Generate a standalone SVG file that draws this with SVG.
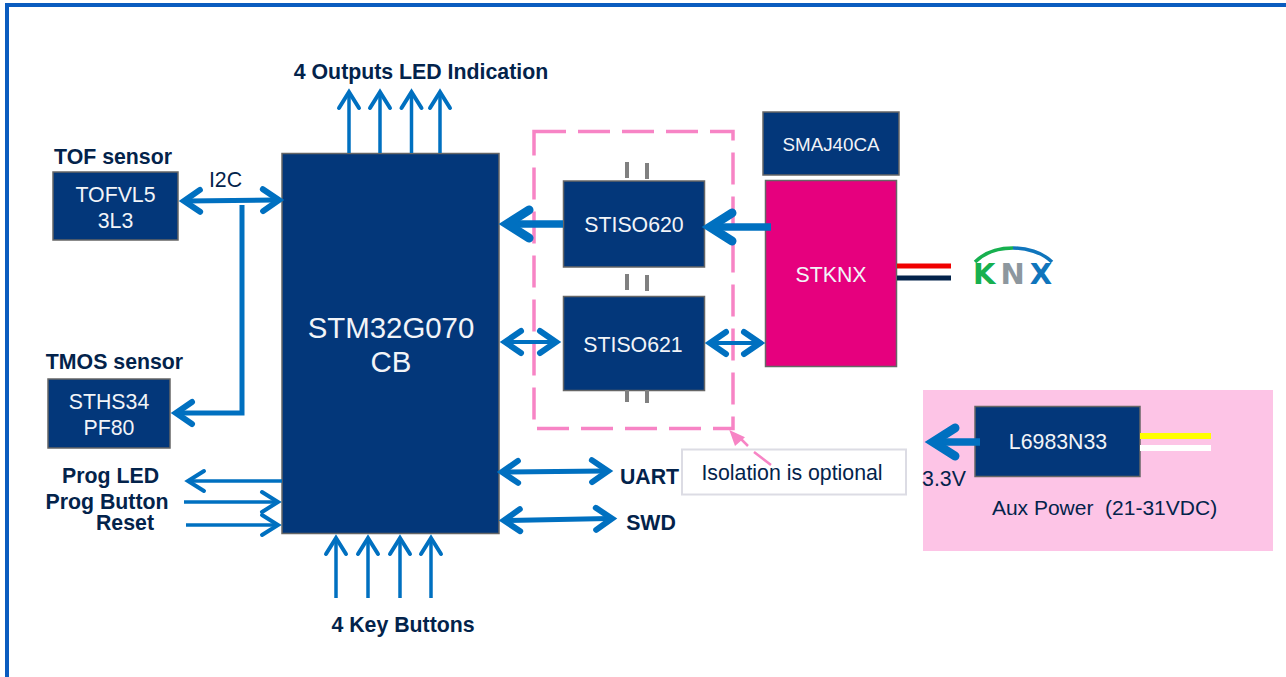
<svg xmlns="http://www.w3.org/2000/svg" width="1286" height="677" viewBox="0 0 1286 677">
<style>
text{font-family:"Liberation Sans",Arial,sans-serif;text-anchor:middle}
.box{fill:#03377a;stroke:#666;stroke-width:1.5}
.w{fill:#f2f4f8;font-size:21.3px}
.b{fill:#03234b;font-size:21.3px;font-weight:700}
.n{fill:#03234b;font-size:21.3px}
.a{fill:none;stroke:#0070c0;stroke-width:3.5}
.t{fill:none;stroke:#0070c0;stroke-width:5}
.s{fill:none;stroke:#0070c0;stroke-width:4}
.k{fill:none;stroke:#0070c0;stroke-width:7.5}
.tick{stroke:#808080;stroke-width:4;fill:none}
</style>
<defs>
<marker id="h" markerUnits="userSpaceOnUse" markerWidth="40" markerHeight="40" viewBox="-30 -20 40 40" refX="-6" refY="0" orient="auto-start-reverse"><path d="M-20 -10 L-4 0 L-20 10" fill="none" stroke="#0070c0" stroke-width="4" stroke-linecap="round" stroke-miterlimit="8"/></marker>
<marker id="m" markerUnits="userSpaceOnUse" markerWidth="44" markerHeight="44" viewBox="-32 -22 44 44" refX="-8" refY="0" orient="auto-start-reverse"><path d="M-21 -11 L-5 0 L-21 11" fill="none" stroke="#0070c0" stroke-width="6" stroke-linecap="round" stroke-miterlimit="8"/></marker>
<marker id="l" markerUnits="userSpaceOnUse" markerWidth="56" markerHeight="56" viewBox="-40 -28 56 56" refX="-12" refY="0" orient="auto-start-reverse"><path d="M-31 -14 L-9 0 L-31 14" fill="none" stroke="#0070c0" stroke-width="9" stroke-linecap="round" stroke-miterlimit="8"/></marker>
</defs>
<rect width="1286" height="677" fill="#fff"/>
<path d="M7 677V5H1286" fill="none" stroke="#0a5cbf" stroke-width="4"/>
<g id="aux-panel"><rect x="923" y="390" width="350" height="161" fill="#fdc4e6"/><text class="n" x="1104.500" y="515" style="white-space:pre;font-size:21px">Aux Power  (21-31VDC)</text></g>
<g id="isolation-area"><rect x="534" y="131.500" width="199" height="297" fill="none" stroke="#f784c5" stroke-width="3.500" stroke-dasharray="32 12"/></g>
<g id="mcu"><rect class="box" x="282" y="153.500" width="217" height="380"/><text class="w" x="391" y="338" style="font-size:29.400px">STM32G070</text><text class="w" x="391" y="372" style="font-size:29.400px">CB</text></g>
<g id="tof"><text class="b" x="113" y="164">TOF sensor</text><rect class="box" x="53" y="172" width="125" height="68"/><text class="w" x="115.500" y="202">TOFVL5</text><text class="w" x="115.500" y="228">3L3</text></g>
<g id="tmos"><text class="b" x="114.500" y="369">TMOS sensor</text><rect class="box" x="48" y="379" width="122" height="69"/><text class="w" x="109" y="409">STHS34</text><text class="w" x="109" y="435">PF80</text></g>
<g id="stiso620"><rect class="box" x="563.500" y="181" width="141" height="86"/><text class="w" x="634" y="232">STISO620</text></g>
<g id="stiso621"><rect class="box" x="563.500" y="296.500" width="141" height="94"/><text class="w" x="633" y="352">STISO621</text></g>
<g id="smaj"><rect class="box" x="763" y="112" width="136" height="63"/><text class="w" x="831" y="151" style="font-size:18.800px">SMAJ40CA</text></g>
<g id="stknx"><rect x="765.500" y="180.500" width="131" height="186" fill="#e6007e" stroke="#666" stroke-width="1.500"/><text class="w" x="831" y="282">STKNX</text></g>
<g id="l6983"><rect class="box" x="975" y="406.500" width="165" height="70"/><text class="w" x="1058" y="449">L6983N33</text></g>
<g id="note"><rect x="682" y="449.500" width="224" height="45" fill="#fff" stroke="#dcdce4" stroke-width="2"/><text class="n" x="792" y="480">Isolation is optional</text></g>
<g id="knx-logo"><path d="M975 262C985 252 1000 248 1013 248" fill="none" stroke="#17b04f" stroke-width="3.500"/><path d="M1013 248C1026 248 1042 252 1052 262" fill="none" stroke="#0f75bc" stroke-width="3.500"/><text x="1015" y="283.500" style="font-family:'DejaVu Sans',sans-serif;font-size:29px;font-weight:700;letter-spacing:5px"><tspan fill="#17b04f">K</tspan><tspan fill="#8d979e">N</tspan><tspan fill="#0f75bc">X</tspan></text></g>
<g id="labels"><text class="b" x="421" y="79">4 Outputs LED Indication</text><text class="b" x="403" y="632">4 Key Buttons</text><text class="n" x="225.500" y="187">I2C</text><text class="b" x="110.500" y="483">Prog LED</text><text class="b" x="107" y="509">Prog Button</text><text class="b" x="125" y="530">Reset</text><text class="b" x="649.500" y="484">UART</text><text class="b" x="651" y="530">SWD</text><text class="n" x="944" y="486">3.3V</text></g>
<g id="connectors">
<path class="a" marker-end="url(#h)" d="M349 153V94"/><path class="a" marker-end="url(#h)" d="M380 153V94"/><path class="a" marker-end="url(#h)" d="M411.500 153V94"/><path class="a" marker-end="url(#h)" d="M440 153V94"/>
<path class="a" marker-end="url(#h)" d="M336 598V540"/><path class="a" marker-end="url(#h)" d="M368 598V540"/><path class="a" marker-end="url(#h)" d="M400 598V540"/><path class="a" marker-end="url(#h)" d="M431 598V540"/>
<path class="a" marker-end="url(#h)" d="M282 481H190"/><path class="a" marker-end="url(#h)" d="M184 502H276"/><path class="a" marker-end="url(#h)" d="M186 525H276"/>
<path class="t" marker-start="url(#m)" marker-end="url(#m)" d="M187 201L276 200"/>
<path class="t" marker-end="url(#m)" d="M242 205V413H179"/>
<path class="k" marker-end="url(#l)" d="M563 224H510"/>
<path class="k" marker-end="url(#l)" d="M771 227H713"/>
<path class="s" marker-start="url(#m)" marker-end="url(#m)" d="M508 342H553"/>
<path class="s" marker-start="url(#m)" marker-end="url(#m)" d="M713 343H757"/>
<path class="t" marker-start="url(#m)" marker-end="url(#m)" d="M505 472L605 471"/>
<path class="t" marker-start="url(#m)" marker-end="url(#m)" d="M507 520.400L609 518.600"/>
<path class="k" marker-end="url(#l)" d="M980 442H936"/>
<path d="M741 439L748 446M754 452L771 465" fill="none" stroke="#f784c5" stroke-width="2.500"/><path d="M729.300 430L745 437.300L735 446Z" fill="#f784c5"/>
<path class="tick" d="M627 162V178M647 163V179M627 274V290M647 275V291M627 390V402M647 390V403"/>
<path d="M897 266H951" stroke="#f00000" stroke-width="5"/><path d="M897 278H951" stroke="#03234b" stroke-width="5"/>
<path d="M1140 436H1211" stroke="#ffff00" stroke-width="6"/><path d="M1140 448H1211" stroke="#fff" stroke-width="6"/>
</g>
</svg>
